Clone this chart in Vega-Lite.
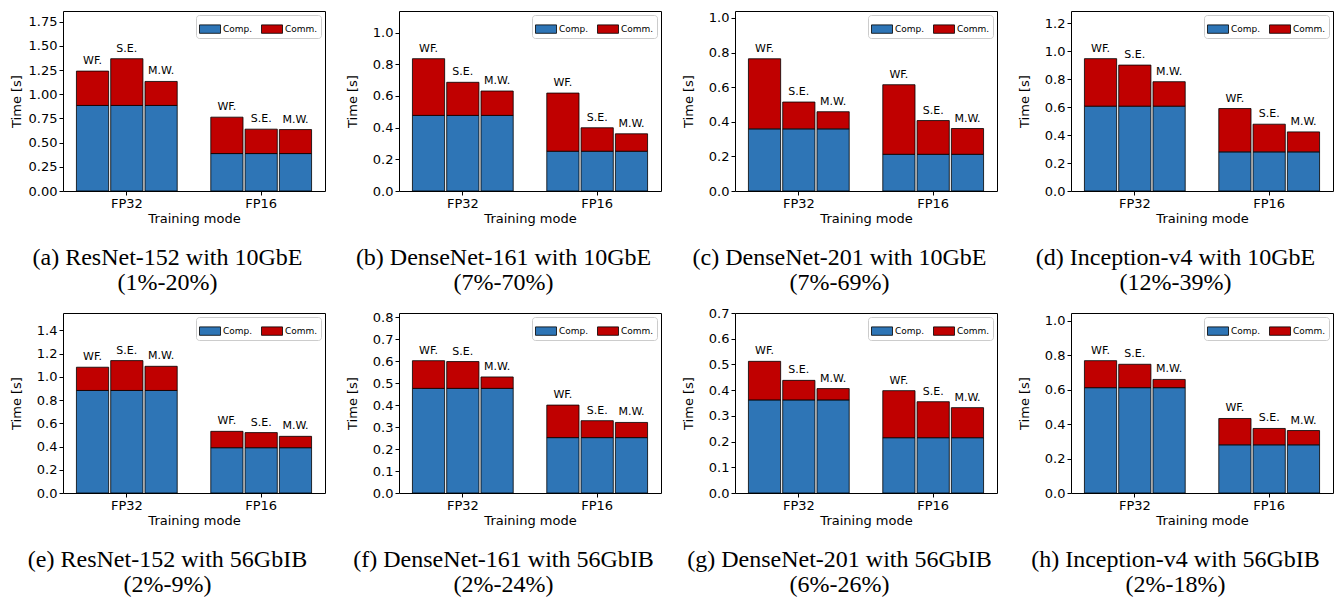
{
  "$schema": "https://vega.github.io/schema/vega-lite/v6.json",
  "padding": {"left": 9, "top": 10, "right": 5, "bottom": 5},
  "bounds": "flush",
  "columns": 4,
  "spacing": {"column": 74, "row": 122},
  "resolve": {"legend": {"color": "independent"}},
  "datasets": {
    "runs": [
      {"panel": "a", "mode": "FP32", "method": "WF.", "comp": 0.884, "total": 1.239},
      {"panel": "a", "mode": "FP32", "method": "S.E.", "comp": 0.884, "total": 1.367},
      {"panel": "a", "mode": "FP32", "method": "M.W.", "comp": 0.884, "total": 1.132},
      {"panel": "a", "mode": "FP16", "method": "WF.", "comp": 0.387, "total": 0.763},
      {"panel": "a", "mode": "FP16", "method": "S.E.", "comp": 0.387, "total": 0.639},
      {"panel": "a", "mode": "FP16", "method": "M.W.", "comp": 0.387, "total": 0.635},
      {"panel": "b", "mode": "FP32", "method": "WF.", "comp": 0.477, "total": 0.835},
      {"panel": "b", "mode": "FP32", "method": "S.E.", "comp": 0.477, "total": 0.686},
      {"panel": "b", "mode": "FP32", "method": "M.W.", "comp": 0.477, "total": 0.631},
      {"panel": "b", "mode": "FP16", "method": "WF.", "comp": 0.251, "total": 0.618},
      {"panel": "b", "mode": "FP16", "method": "S.E.", "comp": 0.251, "total": 0.399},
      {"panel": "b", "mode": "FP16", "method": "M.W.", "comp": 0.251, "total": 0.361},
      {"panel": "c", "mode": "FP32", "method": "WF.", "comp": 0.359, "total": 0.764},
      {"panel": "c", "mode": "FP32", "method": "S.E.", "comp": 0.359, "total": 0.514},
      {"panel": "c", "mode": "FP32", "method": "M.W.", "comp": 0.359, "total": 0.458},
      {"panel": "c", "mode": "FP16", "method": "WF.", "comp": 0.212, "total": 0.614},
      {"panel": "c", "mode": "FP16", "method": "S.E.", "comp": 0.212, "total": 0.407},
      {"panel": "c", "mode": "FP16", "method": "M.W.", "comp": 0.212, "total": 0.361},
      {"panel": "d", "mode": "FP32", "method": "WF.", "comp": 0.607, "total": 0.947},
      {"panel": "d", "mode": "FP32", "method": "S.E.", "comp": 0.607, "total": 0.901},
      {"panel": "d", "mode": "FP32", "method": "M.W.", "comp": 0.607, "total": 0.782},
      {"panel": "d", "mode": "FP16", "method": "WF.", "comp": 0.280, "total": 0.590},
      {"panel": "d", "mode": "FP16", "method": "S.E.", "comp": 0.280, "total": 0.478},
      {"panel": "d", "mode": "FP16", "method": "M.W.", "comp": 0.280, "total": 0.423},
      {"panel": "e", "mode": "FP32", "method": "WF.", "comp": 0.883, "total": 1.083},
      {"panel": "e", "mode": "FP32", "method": "S.E.", "comp": 0.883, "total": 1.140},
      {"panel": "e", "mode": "FP32", "method": "M.W.", "comp": 0.883, "total": 1.091},
      {"panel": "e", "mode": "FP16", "method": "WF.", "comp": 0.390, "total": 0.531},
      {"panel": "e", "mode": "FP16", "method": "S.E.", "comp": 0.390, "total": 0.520},
      {"panel": "e", "mode": "FP16", "method": "M.W.", "comp": 0.390, "total": 0.488},
      {"panel": "f", "mode": "FP32", "method": "WF.", "comp": 0.476, "total": 0.602},
      {"panel": "f", "mode": "FP32", "method": "S.E.", "comp": 0.476, "total": 0.598},
      {"panel": "f", "mode": "FP32", "method": "M.W.", "comp": 0.476, "total": 0.528},
      {"panel": "f", "mode": "FP16", "method": "WF.", "comp": 0.252, "total": 0.400},
      {"panel": "f", "mode": "FP16", "method": "S.E.", "comp": 0.252, "total": 0.329},
      {"panel": "f", "mode": "FP16", "method": "M.W.", "comp": 0.252, "total": 0.321},
      {"panel": "g", "mode": "FP32", "method": "WF.", "comp": 0.362, "total": 0.512},
      {"panel": "g", "mode": "FP32", "method": "S.E.", "comp": 0.362, "total": 0.438},
      {"panel": "g", "mode": "FP32", "method": "M.W.", "comp": 0.362, "total": 0.406},
      {"panel": "g", "mode": "FP16", "method": "WF.", "comp": 0.215, "total": 0.398},
      {"panel": "g", "mode": "FP16", "method": "S.E.", "comp": 0.215, "total": 0.355},
      {"panel": "g", "mode": "FP16", "method": "M.W.", "comp": 0.215, "total": 0.332},
      {"panel": "h", "mode": "FP32", "method": "WF.", "comp": 0.612, "total": 0.769},
      {"panel": "h", "mode": "FP32", "method": "S.E.", "comp": 0.612, "total": 0.748},
      {"panel": "h", "mode": "FP32", "method": "M.W.", "comp": 0.612, "total": 0.660},
      {"panel": "h", "mode": "FP16", "method": "WF.", "comp": 0.280, "total": 0.433},
      {"panel": "h", "mode": "FP16", "method": "S.E.", "comp": 0.280, "total": 0.375},
      {"panel": "h", "mode": "FP16", "method": "M.W.", "comp": 0.280, "total": 0.363}
    ]
  },
  "data": {"name": "runs"},
  "concat": [
    {
      "width": 262, "height": 180,
      "title": {"text": ["(a) ResNet-152 with 10GbE", "(1%-20%)"]},
      "transform": [{"filter": "datum.panel == 'a'"}],
      "encoding": {
        "x": {"field": "mode", "type": "nominal", "sort": ["FP32", "FP16"], "title": "Training mode", "scale": {"paddingInner": 0.25, "paddingOuter": 0.1}},
        "xOffset": {"field": "method", "type": "nominal", "sort": ["WF.", "S.E.", "M.W."], "scale": {"paddingInner": 0.06}}
      },
      "layer": [
        {"mark": {"type": "bar", "stroke": "black", "strokeWidth": 0.8}, "encoding": {"y": {"field": "comp", "type": "quantitative", "title": "Time [s]", "scale": {"domain": [0, 1.86], "nice": false}, "axis": {"values": [0, 0.25, 0.5, 0.75, 1.0, 1.25, 1.5, 1.75], "format": ".2f"}}, "color": {"datum": "Comp.", "scale": {"domain": ["Comp.", "Comm."], "range": ["#2e75b6", "#c00000"]}, "legend": {"title": null}}}},
        {"mark": {"type": "bar", "stroke": "black", "strokeWidth": 0.8}, "encoding": {"y": {"field": "comp", "type": "quantitative", "title": "Time [s]", "axis": {"values": [0, 0.25, 0.5, 0.75, 1.0, 1.25, 1.5, 1.75], "format": ".2f"}}, "y2": {"field": "total"}, "color": {"datum": "Comm."}}},
        {"mark": {"type": "text", "baseline": "bottom", "dy": -5, "fontSize": 11}, "encoding": {"y": {"field": "total", "type": "quantitative", "title": "Time [s]", "axis": {"values": [0, 0.25, 0.5, 0.75, 1.0, 1.25, 1.5, 1.75], "format": ".2f"}}, "text": {"field": "method"}}}
      ]
    },
    {
      "width": 262, "height": 180,
      "title": {"text": ["(b) DenseNet-161 with 10GbE", "(7%-70%)"]},
      "transform": [{"filter": "datum.panel == 'b'"}],
      "encoding": {
        "x": {"field": "mode", "type": "nominal", "sort": ["FP32", "FP16"], "title": "Training mode", "scale": {"paddingInner": 0.25, "paddingOuter": 0.1}},
        "xOffset": {"field": "method", "type": "nominal", "sort": ["WF.", "S.E.", "M.W."], "scale": {"paddingInner": 0.06}}
      },
      "layer": [
        {"mark": {"type": "bar", "stroke": "black", "strokeWidth": 0.8}, "encoding": {"y": {"field": "comp", "type": "quantitative", "title": "Time [s]", "scale": {"domain": [0, 1.136], "nice": false}, "axis": {"values": [0, 0.2, 0.4, 0.6, 0.8, 1.0], "format": ".1f"}}, "color": {"datum": "Comp.", "scale": {"domain": ["Comp.", "Comm."], "range": ["#2e75b6", "#c00000"]}, "legend": {"title": null}}}},
        {"mark": {"type": "bar", "stroke": "black", "strokeWidth": 0.8}, "encoding": {"y": {"field": "comp", "type": "quantitative", "title": "Time [s]", "axis": {"values": [0, 0.2, 0.4, 0.6, 0.8, 1.0], "format": ".1f"}}, "y2": {"field": "total"}, "color": {"datum": "Comm."}}},
        {"mark": {"type": "text", "baseline": "bottom", "dy": -5, "fontSize": 11}, "encoding": {"y": {"field": "total", "type": "quantitative", "title": "Time [s]", "axis": {"values": [0, 0.2, 0.4, 0.6, 0.8, 1.0], "format": ".1f"}}, "text": {"field": "method"}}}
      ]
    },
    {
      "width": 262, "height": 180,
      "title": {"text": ["(c) DenseNet-201 with 10GbE", "(7%-69%)"]},
      "transform": [{"filter": "datum.panel == 'c'"}],
      "encoding": {
        "x": {"field": "mode", "type": "nominal", "sort": ["FP32", "FP16"], "title": "Training mode", "scale": {"paddingInner": 0.25, "paddingOuter": 0.1}},
        "xOffset": {"field": "method", "type": "nominal", "sort": ["WF.", "S.E.", "M.W."], "scale": {"paddingInner": 0.06}}
      },
      "layer": [
        {"mark": {"type": "bar", "stroke": "black", "strokeWidth": 0.8}, "encoding": {"y": {"field": "comp", "type": "quantitative", "title": "Time [s]", "scale": {"domain": [0, 1.04], "nice": false}, "axis": {"values": [0, 0.2, 0.4, 0.6, 0.8, 1.0], "format": ".1f"}}, "color": {"datum": "Comp.", "scale": {"domain": ["Comp.", "Comm."], "range": ["#2e75b6", "#c00000"]}, "legend": {"title": null}}}},
        {"mark": {"type": "bar", "stroke": "black", "strokeWidth": 0.8}, "encoding": {"y": {"field": "comp", "type": "quantitative", "title": "Time [s]", "axis": {"values": [0, 0.2, 0.4, 0.6, 0.8, 1.0], "format": ".1f"}}, "y2": {"field": "total"}, "color": {"datum": "Comm."}}},
        {"mark": {"type": "text", "baseline": "bottom", "dy": -5, "fontSize": 11}, "encoding": {"y": {"field": "total", "type": "quantitative", "title": "Time [s]", "axis": {"values": [0, 0.2, 0.4, 0.6, 0.8, 1.0], "format": ".1f"}}, "text": {"field": "method"}}}
      ]
    },
    {
      "width": 262, "height": 180,
      "title": {"text": ["(d) Inception-v4 with 10GbE", "(12%-39%)"]},
      "transform": [{"filter": "datum.panel == 'd'"}],
      "encoding": {
        "x": {"field": "mode", "type": "nominal", "sort": ["FP32", "FP16"], "title": "Training mode", "scale": {"paddingInner": 0.25, "paddingOuter": 0.1}},
        "xOffset": {"field": "method", "type": "nominal", "sort": ["WF.", "S.E.", "M.W."], "scale": {"paddingInner": 0.06}}
      },
      "layer": [
        {"mark": {"type": "bar", "stroke": "black", "strokeWidth": 0.8}, "encoding": {"y": {"field": "comp", "type": "quantitative", "title": "Time [s]", "scale": {"domain": [0, 1.288], "nice": false}, "axis": {"values": [0, 0.2, 0.4, 0.6, 0.8, 1.0, 1.2], "format": ".1f"}}, "color": {"datum": "Comp.", "scale": {"domain": ["Comp.", "Comm."], "range": ["#2e75b6", "#c00000"]}, "legend": {"title": null}}}},
        {"mark": {"type": "bar", "stroke": "black", "strokeWidth": 0.8}, "encoding": {"y": {"field": "comp", "type": "quantitative", "title": "Time [s]", "axis": {"values": [0, 0.2, 0.4, 0.6, 0.8, 1.0, 1.2], "format": ".1f"}}, "y2": {"field": "total"}, "color": {"datum": "Comm."}}},
        {"mark": {"type": "text", "baseline": "bottom", "dy": -5, "fontSize": 11}, "encoding": {"y": {"field": "total", "type": "quantitative", "title": "Time [s]", "axis": {"values": [0, 0.2, 0.4, 0.6, 0.8, 1.0, 1.2], "format": ".1f"}}, "text": {"field": "method"}}}
      ]
    },
    {
      "width": 262, "height": 180,
      "title": {"text": ["(e) ResNet-152 with 56GbIB", "(2%-9%)"]},
      "transform": [{"filter": "datum.panel == 'e'"}],
      "encoding": {
        "x": {"field": "mode", "type": "nominal", "sort": ["FP32", "FP16"], "title": "Training mode", "scale": {"paddingInner": 0.25, "paddingOuter": 0.1}},
        "xOffset": {"field": "method", "type": "nominal", "sort": ["WF.", "S.E.", "M.W."], "scale": {"paddingInner": 0.06}}
      },
      "layer": [
        {"mark": {"type": "bar", "stroke": "black", "strokeWidth": 0.8}, "encoding": {"y": {"field": "comp", "type": "quantitative", "title": "Time [s]", "scale": {"domain": [0, 1.55], "nice": false}, "axis": {"values": [0, 0.2, 0.4, 0.6, 0.8, 1.0, 1.2, 1.4], "format": ".1f"}}, "color": {"datum": "Comp.", "scale": {"domain": ["Comp.", "Comm."], "range": ["#2e75b6", "#c00000"]}, "legend": {"title": null}}}},
        {"mark": {"type": "bar", "stroke": "black", "strokeWidth": 0.8}, "encoding": {"y": {"field": "comp", "type": "quantitative", "title": "Time [s]", "axis": {"values": [0, 0.2, 0.4, 0.6, 0.8, 1.0, 1.2, 1.4], "format": ".1f"}}, "y2": {"field": "total"}, "color": {"datum": "Comm."}}},
        {"mark": {"type": "text", "baseline": "bottom", "dy": -5, "fontSize": 11}, "encoding": {"y": {"field": "total", "type": "quantitative", "title": "Time [s]", "axis": {"values": [0, 0.2, 0.4, 0.6, 0.8, 1.0, 1.2, 1.4], "format": ".1f"}}, "text": {"field": "method"}}}
      ]
    },
    {
      "width": 262, "height": 180,
      "title": {"text": ["(f) DenseNet-161 with 56GbIB", "(2%-24%)"]},
      "transform": [{"filter": "datum.panel == 'f'"}],
      "encoding": {
        "x": {"field": "mode", "type": "nominal", "sort": ["FP32", "FP16"], "title": "Training mode", "scale": {"paddingInner": 0.25, "paddingOuter": 0.1}},
        "xOffset": {"field": "method", "type": "nominal", "sort": ["WF.", "S.E.", "M.W."], "scale": {"paddingInner": 0.06}}
      },
      "layer": [
        {"mark": {"type": "bar", "stroke": "black", "strokeWidth": 0.8}, "encoding": {"y": {"field": "comp", "type": "quantitative", "title": "Time [s]", "scale": {"domain": [0, 0.819], "nice": false}, "axis": {"values": [0, 0.1, 0.2, 0.3, 0.4, 0.5, 0.6, 0.7, 0.8], "format": ".1f"}}, "color": {"datum": "Comp.", "scale": {"domain": ["Comp.", "Comm."], "range": ["#2e75b6", "#c00000"]}, "legend": {"title": null}}}},
        {"mark": {"type": "bar", "stroke": "black", "strokeWidth": 0.8}, "encoding": {"y": {"field": "comp", "type": "quantitative", "title": "Time [s]", "axis": {"values": [0, 0.1, 0.2, 0.3, 0.4, 0.5, 0.6, 0.7, 0.8], "format": ".1f"}}, "y2": {"field": "total"}, "color": {"datum": "Comm."}}},
        {"mark": {"type": "text", "baseline": "bottom", "dy": -5, "fontSize": 11}, "encoding": {"y": {"field": "total", "type": "quantitative", "title": "Time [s]", "axis": {"values": [0, 0.1, 0.2, 0.3, 0.4, 0.5, 0.6, 0.7, 0.8], "format": ".1f"}}, "text": {"field": "method"}}}
      ]
    },
    {
      "width": 262, "height": 180,
      "title": {"text": ["(g) DenseNet-201 with 56GbIB", "(6%-26%)"]},
      "transform": [{"filter": "datum.panel == 'g'"}],
      "encoding": {
        "x": {"field": "mode", "type": "nominal", "sort": ["FP32", "FP16"], "title": "Training mode", "scale": {"paddingInner": 0.25, "paddingOuter": 0.1}},
        "xOffset": {"field": "method", "type": "nominal", "sort": ["WF.", "S.E.", "M.W."], "scale": {"paddingInner": 0.06}}
      },
      "layer": [
        {"mark": {"type": "bar", "stroke": "black", "strokeWidth": 0.8}, "encoding": {"y": {"field": "comp", "type": "quantitative", "title": "Time [s]", "scale": {"domain": [0, 0.70], "nice": false}, "axis": {"values": [0, 0.1, 0.2, 0.3, 0.4, 0.5, 0.6, 0.7], "format": ".1f"}}, "color": {"datum": "Comp.", "scale": {"domain": ["Comp.", "Comm."], "range": ["#2e75b6", "#c00000"]}, "legend": {"title": null}}}},
        {"mark": {"type": "bar", "stroke": "black", "strokeWidth": 0.8}, "encoding": {"y": {"field": "comp", "type": "quantitative", "title": "Time [s]", "axis": {"values": [0, 0.1, 0.2, 0.3, 0.4, 0.5, 0.6, 0.7], "format": ".1f"}}, "y2": {"field": "total"}, "color": {"datum": "Comm."}}},
        {"mark": {"type": "text", "baseline": "bottom", "dy": -5, "fontSize": 11}, "encoding": {"y": {"field": "total", "type": "quantitative", "title": "Time [s]", "axis": {"values": [0, 0.1, 0.2, 0.3, 0.4, 0.5, 0.6, 0.7], "format": ".1f"}}, "text": {"field": "method"}}}
      ]
    },
    {
      "width": 262, "height": 180,
      "title": {"text": ["(h) Inception-v4 with 56GbIB", "(2%-18%)"]},
      "transform": [{"filter": "datum.panel == 'h'"}],
      "encoding": {
        "x": {"field": "mode", "type": "nominal", "sort": ["FP32", "FP16"], "title": "Training mode", "scale": {"paddingInner": 0.25, "paddingOuter": 0.1}},
        "xOffset": {"field": "method", "type": "nominal", "sort": ["WF.", "S.E.", "M.W."], "scale": {"paddingInner": 0.06}}
      },
      "layer": [
        {"mark": {"type": "bar", "stroke": "black", "strokeWidth": 0.8}, "encoding": {"y": {"field": "comp", "type": "quantitative", "title": "Time [s]", "scale": {"domain": [0, 1.046], "nice": false}, "axis": {"values": [0, 0.2, 0.4, 0.6, 0.8, 1.0], "format": ".1f"}}, "color": {"datum": "Comp.", "scale": {"domain": ["Comp.", "Comm."], "range": ["#2e75b6", "#c00000"]}, "legend": {"title": null}}}},
        {"mark": {"type": "bar", "stroke": "black", "strokeWidth": 0.8}, "encoding": {"y": {"field": "comp", "type": "quantitative", "title": "Time [s]", "axis": {"values": [0, 0.2, 0.4, 0.6, 0.8, 1.0], "format": ".1f"}}, "y2": {"field": "total"}, "color": {"datum": "Comm."}}},
        {"mark": {"type": "text", "baseline": "bottom", "dy": -5, "fontSize": 11}, "encoding": {"y": {"field": "total", "type": "quantitative", "title": "Time [s]", "axis": {"values": [0, 0.2, 0.4, 0.6, 0.8, 1.0], "format": ".1f"}}, "text": {"field": "method"}}}
      ]
    }
  ],
  "config": {
    "font": "DejaVu Sans",
    "view": {"stroke": "black", "strokeWidth": 1},
    "bar": {"fillOpacity": 1},
    "text": {"font": "DejaVu Sans", "color": "black"},
    "axis": {"grid": false, "domain": false, "tickColor": "black", "tickSize": 4, "labelColor": "black", "labelFont": "DejaVu Sans", "labelFontSize": 13, "titleFont": "DejaVu Sans", "titleFontSize": 13, "titleFontWeight": "normal", "titleColor": "black", "labelPadding": 2, "labelOverlap": false},
    "axisY": {"titlePadding": 4, "minExtent": 36, "maxExtent": 36, "labelOverlap": false, "labelFlush": false},
    "axisX": {"labelAngle": 0, "titlePadding": 2},
    "title": {"font": "Liberation Serif", "fontSize": 24, "fontWeight": "normal", "orient": "bottom", "anchor": "middle", "frame": "bounds", "offset": 21, "lineHeight": 25, "color": "black"},
    "legend": {"orient": "top-right", "direction": "horizontal", "offset": 4, "padding": 3, "fillColor": "white", "strokeColor": "#cccccc", "cornerRadius": 3, "symbolType": "M-1,-0.4H1V0.4H-1Z", "symbolSize": 441, "symbolStrokeColor": "black", "symbolStrokeWidth": 0.8, "symbolOpacity": 1, "labelFont": "DejaVu Sans", "labelFontSize": 9, "labelColor": "black", "labelOffset": 2, "columnPadding": 6}
  }
}
